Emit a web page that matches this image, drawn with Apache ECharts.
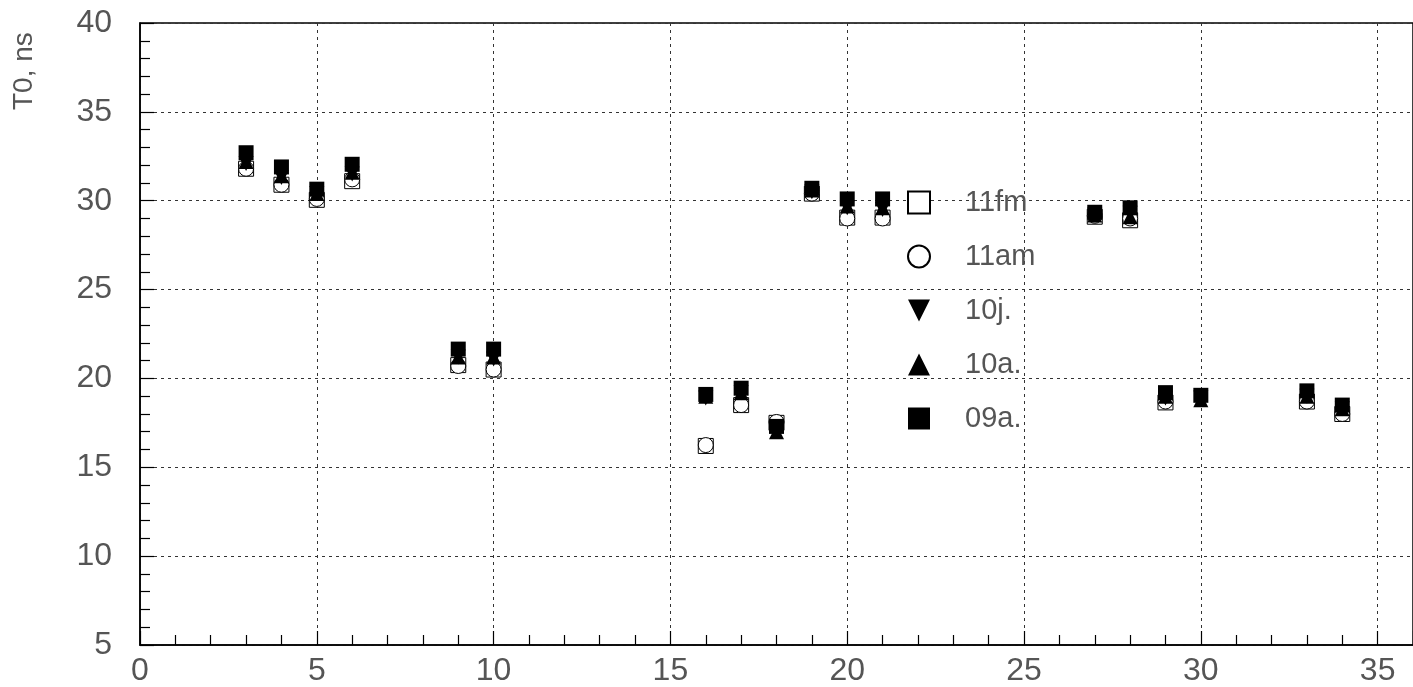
<!DOCTYPE html>
<html>
<head>
<meta charset="utf-8">
<script src="https://cdn.jsdelivr.net/npm/echarts@6/dist/echarts.min.js"></script>
<style>
html,body{margin:0;padding:0;background:#fff;}
#c{width:1413px;height:687px;}
</style>
</head>
<body>
<div id="c"></div>
<script>
const xs = [3,4,5,6,9,10,16,17,18,19,20,21,27,28,29,30,33,34];
const fm11 = [31.8,30.9,30.05,31.1,20.75,20.5,16.2,18.5,17.5,30.4,29.05,29.05,29.1,28.9,18.65,null,18.7,18.0];
const am11 = [31.8,30.9,30.1,31.2,20.7,20.5,16.25,18.5,17.55,30.4,29.0,29.0,29.15,29.0,18.7,null,18.7,18.0];
const j10 = [32.1,31.3,30.4,31.5,21.2,21.1,18.9,19.2,17.2,30.5,29.6,29.5,29.2,29.3,18.9,18.9,19.0,18.3];
const a10 = [32.2,31.4,30.4,31.6,21.2,21.2,19.0,19.2,17.0,30.6,29.7,29.6,29.2,29.1,19.0,18.8,19.0,18.3];
const a09 = [32.7,31.9,30.65,32.05,21.65,21.65,19.1,19.45,17.3,30.7,30.1,30.1,29.35,29.6,19.2,19.05,19.3,18.5];
const seriesNames = ['11fm','11am','10j.','10a.','09a.'];
const yTitle = 'T0, ns';

const FONT = '"Liberation Sans Narrow", "Liberation Sans", "DejaVu Sans", sans-serif';
const TXT = '#555';
const pair = arr => xs.map((x,i) => [x, arr[i]]);
const downTri = 'path://M0,0L10,0L5,10Z';
const upTri = 'path://M5,0L10,10L0,10Z';

const defs = [
  {name: seriesNames[0], data: fm11, symbol: 'rect', size: 15, color: '#fff', border: '#000', bw: 1},
  {name: seriesNames[1], data: am11, symbol: 'circle', size: 15, color: '#fff', border: '#000', bw: 1},
  {name: seriesNames[2], data: j10, symbol: downTri, size: 15, color: '#000', border: '#000', bw: 0},
  {name: seriesNames[3], data: a10, symbol: upTri, size: 15, color: '#000', border: '#000', bw: 0},
  {name: seriesNames[4], data: a09, symbol: 'rect', size: 15, color: '#000', border: '#000', bw: 0}
];

const chart = echarts.init(document.getElementById('c'), null, {renderer: 'canvas'});
const axisCommon = {
  axisLine: {show: true, onZero: false, lineStyle: {color: '#000', width: 1.5}},
  axisTick: {show: true, inside: true, length: 14, lineStyle: {color: '#000', width: 1.2}},
  minorTick: {show: true, splitNumber: 5, length: 10, lineStyle: {color: '#000', width: 1.2}},
  splitLine: {show: true, lineStyle: {color: '#333', type: [3, 4], width: 1}},
  axisLabel: {color: TXT, fontFamily: FONT, fontSize: 32, showMaxLabel: false}
};
chart.setOption({
  animation: false,
  backgroundColor: '#fff',
  grid: {left: 140, top: 23, bottom: 41, right: -2, show: true, borderColor: '#000', borderWidth: 1.5},
  xAxis: Object.assign({}, axisCommon, {
    type: 'value', min: 0, max: 36, interval: 5,
    axisLabel: Object.assign({}, axisCommon.axisLabel, {margin: 10})
  }),
  yAxis: Object.assign({}, axisCommon, {
    type: 'value', min: 5, max: 40, interval: 5,
    axisLabel: Object.assign({}, axisCommon.axisLabel, {margin: 28, showMaxLabel: true})
  }),
  legend: {
    orient: 'vertical', left: 902, top: 183,
    itemWidth: 22, itemHeight: 22, itemGap: 25,
    data: seriesNames,
    textStyle: {color: TXT, fontFamily: FONT, fontSize: 29, padding: [0,0,0,30]}
  },
  graphic: [{
    type: 'text', x: 10, y: 110, rotation: Math.PI/2,
    style: {text: yTitle, fill: TXT, font: '28px ' + FONT}
  }],
  series: defs.map(d => ({
    type: 'scatter', name: d.name, data: pair(d.data),
    symbol: d.symbol, symbolSize: d.size,
    itemStyle: {color: d.color, borderColor: d.border, borderWidth: d.bw, opacity: 1}
  }))
});
</script>
</body>
</html>
